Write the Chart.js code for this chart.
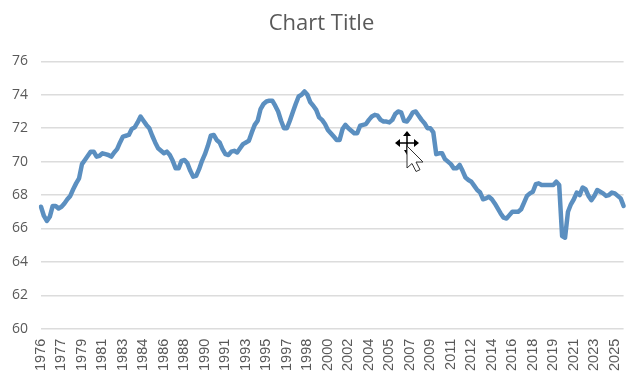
<!DOCTYPE html>
<html>
<head>
<meta charset="utf-8">
<style>
html,body{margin:0;padding:0;background:#fff;overflow:hidden}
#wrap{position:relative;width:643px;height:381px}
canvas{display:block}
#cursor{position:absolute;left:394px;top:131px}
</style>
<script src="https://cdn.jsdelivr.net/npm/chart.js@4/dist/chart.umd.min.js"></script>
</head>
<body>
<div id="wrap">
<canvas id="c" width="643" height="381"></canvas>
<svg id="cursor" width="32" height="42" viewBox="0 0 32 42">
<path d="M13 4v16M4 12h18" stroke="#000" stroke-width="1.5" fill="none"/>
<path d="M13 0l4 5h-8zM13 24l-3-5h3zM1 12l5-4v8zM25 12l-5-4v8z" fill="#000"/>
<path d="M13 15v22l5-4.500 4 8 4-1.800-4-7.700h7z" fill="#fff" stroke="#333" stroke-width="1"/>
</svg>
</div>
<script>
const quartersPerLabel = 7;
const chartTitle = "Chart Title";
const yTicks = [60,62,64,66,68,70,72,74,76];
const tickLabels = ["1976","1977","1979","1981","1983","1984","1986","1988","1990","1991","1993","1995","1997","1998","2000","2002","2004","2005","2007","2009","2011","2012","2014","2016","2018","2019","2021","2023","2025"];
const values = [
67.3,66.75,66.45,66.7,67.35,67.35,67.2,67.3,67.5,67.75,
67.95,68.35,68.7,69.0,69.85,70.1,70.35,70.6,70.6,70.3,
70.35,70.5,70.45,70.4,70.3,70.55,70.75,71.15,71.5,71.55,
71.6,71.95,72.05,72.35,72.7,72.45,72.2,72.0,71.55,71.15,
70.8,70.65,70.5,70.6,70.4,70.05,69.6,69.6,70.05,70.1,
69.9,69.45,69.1,69.15,69.55,70.05,70.45,70.95,71.55,71.6,
71.3,71.15,70.75,70.45,70.4,70.6,70.65,70.55,70.8,71.05,
71.15,71.25,71.75,72.2,72.45,73.15,73.45,73.6,73.65,73.65,
73.35,73.0,72.45,72.0,72.0,72.45,72.95,73.45,73.9,74.0,
74.2,74.0,73.55,73.35,73.1,72.65,72.5,72.25,71.9,71.7,
71.5,71.3,71.3,71.95,72.2,72.0,71.85,71.7,71.7,72.15,
72.2,72.25,72.5,72.7,72.8,72.75,72.5,72.4,72.4,72.35,
72.5,72.85,73.0,72.95,72.45,72.4,72.65,72.95,73.0,72.75,
72.5,72.3,72.0,72.0,71.75,70.45,70.5,70.5,70.15,70.0,
69.85,69.6,69.6,69.8,69.45,69.05,68.9,68.8,68.55,68.3,
68.15,67.75,67.8,67.9,67.75,67.5,67.2,66.9,66.65,66.6,
66.8,67.0,67.0,67.0,67.15,67.55,67.95,68.1,68.2,68.65,
68.7,68.6,68.6,68.6,68.6,68.6,68.8,68.6,65.55,65.45,
67.0,67.45,67.75,68.15,68.0,68.45,68.35,67.95,67.7,67.95,
68.3,68.2,68.1,67.95,68.0,68.15,68.1,67.95,67.8,67.35
];
const labels = values.map(function(v,i){
  return tickLabels[i / quartersPerLabel] || "";
});
new Chart(document.getElementById("c"),{
  type:"line",
  data:{labels:labels,datasets:[{data:values,borderColor:"#5b8fc0",borderWidth:4.5,pointRadius:0,tension:0,fill:false,borderJoinStyle:"round",borderCapStyle:"round"}]},
  options:{
    responsive:false,animation:false,
    layout:{padding:{left:19,right:19,top:8,bottom:8}},
    plugins:{
      legend:{display:false},
      tooltip:{enabled:false},
      title:{display:true,text:chartTitle,color:"#595959",font:{family:"'Open Sans'",size:22,weight:"normal"},padding:{top:3,bottom:24}}
    },
    scales:{
      x:{
        type:"category",offset:false,
        grid:{display:false},border:{display:false},
        ticks:{autoSkip:false,minRotation:90,maxRotation:90,padding:2,color:"#595959",font:{family:"'Liberation Sans'",size:14.5},
          callback:function(v,i){return labels[i];}}
      },
      y:{
        min:60,max:76,
        afterFit:function(s){s.width=22;},
        afterBuildTicks:function(a){a.ticks=yTicks.map(function(v){return {value:v};});},
        grid:{color:"#dcdcdc",lineWidth:1.5,drawTicks:false},border:{display:false},
        ticks:{mirror:true,padding:-29,color:"#595959",font:{family:"'Open Sans'",size:14}}
      }
    }
  }
});
</script>
</body>
</html>
